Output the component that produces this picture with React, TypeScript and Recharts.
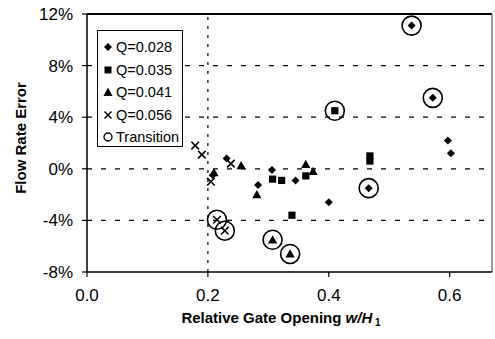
import React from 'react';
import { ScatterChart, Scatter, XAxis, YAxis, ReferenceLine, Legend, Label } from 'recharts';

// Relative gate opening (x) and flow rate error in % (y)
const q028X = [0.208, 0.231, 0.283, 0.306, 0.345, 0.400, 0.466, 0.537, 0.572, 0.597, 0.602];
const q028Y = [-0.5, 0.8, -1.25, -0.1, -0.9, -2.6, -1.5, 11.1, 5.5, 2.2, 1.2];

const q035X = [0.307, 0.322, 0.339, 0.362, 0.410, 0.468, 0.468];
const q035Y = [-0.8, -0.9, -3.6, -0.55, 4.5, 1.0, 0.6];

const q041X = [0.210, 0.255, 0.281, 0.307, 0.336, 0.362, 0.374];
const q041Y = [-0.3, 0.25, -2.0, -5.5, -6.6, 0.35, -0.2];

const q056X = [0.179, 0.190, 0.238, 0.205, 0.215, 0.228];
const q056Y = [1.8, 1.1, 0.4, -1.0, -3.95, -4.8];

const transX = [0.537, 0.572, 0.410, 0.466, 0.215, 0.228, 0.307, 0.336];
const transY = [11.1, 5.5, 4.5, -1.5, -3.95, -4.8, -5.5, -6.6];

const xTicks = [0, 0.2, 0.4, 0.6];
const yTicks = [-8, -4, 0, 4, 8, 12];
const gridY = [8, 4, 0, -4];
const gridX = [0.2];

const seriesNames = ['Q=0.028', 'Q=0.035', 'Q=0.041', 'Q=0.056', 'Transition'];

const zip = (xs: number[], ys: number[]) => xs.map((x, i) => ({ x, y: ys[i] }));

const FONT = '"Liberation Sans", Arial, Helvetica, sans-serif';

const Diamond = (p: any) => {
  const { cx, cy } = p;
  const s = 4;
  return <polygon points={`${cx},${cy - s} ${cx + s},${cy} ${cx},${cy + s} ${cx - s},${cy}`} fill="#000" />;
};
const Square = (p: any) => {
  const { cx, cy } = p;
  const s = 3.6;
  return <rect x={cx - s} y={cy - s} width={2 * s} height={2 * s} fill="#000" />;
};
const Triangle = (p: any) => {
  const { cx, cy } = p;
  const s = 4.6;
  return <polygon points={`${cx},${cy - s} ${cx + s},${cy + s * 0.8} ${cx - s},${cy + s * 0.8}`} fill="#000" />;
};
const Cross = (p: any) => {
  const { cx, cy } = p;
  const s = 3.8;
  return (
    <g stroke="#000" strokeWidth={1.6}>
      <line x1={cx - s} y1={cy - s} x2={cx + s} y2={cy + s} />
      <line x1={cx - s} y1={cy + s} x2={cx + s} y2={cy - s} />
    </g>
  );
};
const Ring = (p: any) => {
  const { cx, cy } = p;
  return <circle cx={cx} cy={cy} r={9.5} fill="none" stroke="#000" strokeWidth={1.6} />;
};

const legendIcons = [
  <polygon key="d" points="5,1 9,5 5,9 1,5" fill="#000" />,
  <rect key="s" x={1.5} y={1.5} width={7} height={7} fill="#000" />,
  <polygon key="t" points="5,0.5 9.5,9 0.5,9" fill="#000" />,
  <g key="x" stroke="#000" strokeWidth={1.4}>
    <line x1={1.5} y1={1.5} x2={8.5} y2={8.5} />
    <line x1={1.5} y1={8.5} x2={8.5} y2={1.5} />
  </g>,
  <circle key="c" cx={5} cy={5} r={4} fill="none" stroke="#000" strokeWidth={1.3} />,
];

const renderLegend = () => (
  <div
    style={{
      border: '1.5px solid #000',
      background: '#fff',
      width: 86,
      height: 117,
      boxSizing: 'border-box',
      padding: '5px 0 0 5px',
      fontFamily: FONT,
      fontSize: 14.5,
      color: '#000',
    }}
  >
    {seriesNames.map((n, i) => (
      <div key={n} style={{ display: 'flex', alignItems: 'center', height: 22.5 }}>
        <svg width={10} height={10} style={{ marginRight: 3 }}>
          {legendIcons[i]}
        </svg>
        <span>{n}</span>
      </div>
    ))}
  </div>
);

export default function App() {
  return (
    <div style={{ position: 'fixed', left: 0, top: 0, background: '#fff' }}>
      <ScatterChart width={495} height={339} margin={{ top: 14, right: 3, left: 0, bottom: 0 }}>
        <XAxis
          type="number"
          dataKey="x"
          domain={[0, 0.67]}
          ticks={xTicks}
          allowDataOverflow
          tickFormatter={(v: number) => v.toFixed(1)}
          height={67}
          tickSize={5}
          tickMargin={12}
          axisLine={{ stroke: '#000', strokeWidth: 1.5 }}
          tickLine={{ stroke: '#000', strokeWidth: 1.2 }}
          tick={{ fill: '#000', fontSize: 17, fontFamily: FONT }}
        >
          <Label
            content={() => (
              <text
                x={281}
                y={323}
                textAnchor="middle"
                fontFamily={FONT}
                fontWeight="bold"
                fontSize={15}
                fill="#000"
              >
                Relative Gate Opening{' '}
                <tspan fontStyle="italic">w/H</tspan>
                <tspan fontSize={10} dy={3}> 1</tspan>
              </text>
            )}
          />
        </XAxis>
        <YAxis
          type="number"
          dataKey="y"
          domain={[-8, 12]}
          ticks={yTicks}
          allowDataOverflow
          tickFormatter={(v: number) => `${v}%`}
          width={87}
          tickSize={5}
          tickMargin={9}
          axisLine={{ stroke: '#000', strokeWidth: 1.5 }}
          tickLine={{ stroke: '#000', strokeWidth: 1.2 }}
          tick={{ fill: '#000', fontSize: 17, fontFamily: FONT }}
        >
          <Label
            content={() => (
              <text
                x={20}
                y={138}
                transform="rotate(-90, 20, 138)"
                textAnchor="middle"
                dominantBaseline="central"
                fontFamily={FONT}
                fontWeight="bold"
                fontSize={15}
                fill="#000"
              >
                Flow Rate Error
              </text>
            )}
          />
        </YAxis>
        {gridY.map((v) => (
          <ReferenceLine key={`gy${v}`} y={v} stroke="#000" strokeWidth={1.3} strokeDasharray="5 9" />
        ))}
        {gridX.map((v) => (
          <ReferenceLine key={`gx${v}`} x={v} stroke="#000" strokeWidth={1.2} strokeDasharray="3 6" />
        ))}
        <ReferenceLine y={12} stroke="#000" strokeWidth={2} />
        <ReferenceLine x={0.67} stroke="#777" strokeWidth={1.5} />
        <Legend
          content={renderLegend}
          layout="vertical"
          align="center"
          verticalAlign="middle"
          wrapperStyle={{ position: 'absolute', left: 97, top: 30, width: 86, height: 117 }}
        />
        <Scatter name={seriesNames[0]} data={zip(q028X, q028Y)} shape={Diamond} isAnimationActive={false} />
        <Scatter name={seriesNames[1]} data={zip(q035X, q035Y)} shape={Square} isAnimationActive={false} />
        <Scatter name={seriesNames[2]} data={zip(q041X, q041Y)} shape={Triangle} isAnimationActive={false} />
        <Scatter name={seriesNames[3]} data={zip(q056X, q056Y)} shape={Cross} isAnimationActive={false} />
        <Scatter name={seriesNames[4]} data={zip(transX, transY)} shape={Ring} isAnimationActive={false} />
      </ScatterChart>
    </div>
  );
}
